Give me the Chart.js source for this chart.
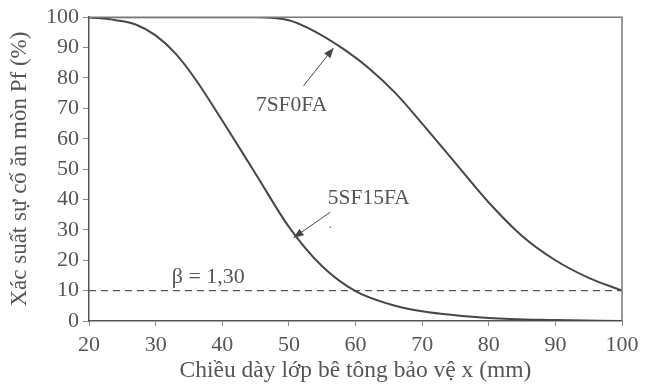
<!DOCTYPE html>
<html>
<head>
<meta charset="utf-8">
<script src="https://cdn.jsdelivr.net/npm/chart.js@4/dist/chart.umd.min.js"></script>
<style>
html,body{margin:0;padding:0;background:#fff;}
#wrap{width:646px;height:388px;}
</style>
</head>
<body>
<div id="wrap"><canvas id="c" width="646" height="388"></canvas></div>
<script>
const xTicks = [20, 30, 40, 50, 60, 70, 80, 90, 100];
const yTicks = [0, 10, 20, 30, 40, 50, 60, 70, 80, 90, 100];
const x5SF15FA = [20, 24, 27, 30, 33, 36, 40, 45, 50, 55, 60, 65, 70, 80, 90, 100];
const y5SF15FA = [100, 99, 97.6, 94, 88, 79.5, 66, 48.5, 31, 18, 9.8, 5.6, 3.2, 1, 0.3, 0];
const x7SF0FA = [20, 45, 50, 54, 58, 62, 66, 70, 75, 80, 85, 90, 95, 100];
const y7SF0FA = [100, 100, 99, 95.2, 89.8, 83.2, 75, 65, 52, 39, 28, 20, 14.2, 10];
const betaLevel = 10;
const betaLabel = "β = 1,30";
const seriesNames = ["5SF15FA", "7SF0FA"];

const ink = '#474747';
const txt = '#555';
const font = "'Liberation Serif', 'Times New Roman', serif";

const pts = (xs, ys) => xs.map((x, i) => ({x: x, y: ys[i]}));

const overlay = {
  id: 'overlay',
  afterDatasetsDraw(chart) {
    const {ctx, chartArea: a, scales: {x, y}} = chart;
    ctx.save();
    // frame top & right
    ctx.strokeStyle = '#777';
    ctx.lineWidth = 1.5;
    ctx.beginPath();
    ctx.moveTo(a.left, a.top); ctx.lineTo(a.right, a.top); ctx.lineTo(a.right, a.bottom);
    ctx.stroke();
    // labels
    ctx.fillStyle = txt;
    ctx.font = "21.5px " + font;
    ctx.textAlign = 'center';
    ctx.textBaseline = 'middle';
    ctx.fillText(seriesNames[1], x.getPixelForValue(50.4), y.getPixelForValue(71.1));
    ctx.fillText(seriesNames[0], x.getPixelForValue(62.0), y.getPixelForValue(40.3));
    ctx.font = "22px " + font;
    ctx.fillText(betaLabel, x.getPixelForValue(37.9), y.getPixelForValue(14.4));
    // arrows
    const arrow = (x0, y0, x1, y1) => {
      const X0 = x.getPixelForValue(x0), Y0 = y.getPixelForValue(y0);
      const X1 = x.getPixelForValue(x1), Y1 = y.getPixelForValue(y1);
      ctx.strokeStyle = ink; ctx.fillStyle = ink; ctx.lineWidth = 1;
      ctx.beginPath(); ctx.moveTo(X0, Y0); ctx.lineTo(X1, Y1); ctx.stroke();
      const ang = Math.atan2(Y1 - Y0, X1 - X0), L = 10, W = 4;
      ctx.beginPath();
      ctx.moveTo(X1, Y1);
      ctx.lineTo(X1 - L*Math.cos(ang) + W*Math.sin(ang), Y1 - L*Math.sin(ang) - W*Math.cos(ang));
      ctx.lineTo(X1 - L*Math.cos(ang) - W*Math.sin(ang), Y1 - L*Math.sin(ang) + W*Math.cos(ang));
      ctx.closePath(); ctx.fill();
    };
    arrow(52.2, 77.4, 56.7, 89.9);
    arrow(56.2, 35.8, 50.7, 27.4);
    // small speck near the lower label
    ctx.fillStyle = '#888';
    ctx.beginPath();
    ctx.arc(x.getPixelForValue(56.2), y.getPixelForValue(30.9), 0.9, 0, Math.PI * 2);
    ctx.fill();
    ctx.restore();
  }
};

new Chart(document.getElementById('c'), {
  type: 'line',
  data: {
    datasets: [
      {label: seriesNames[0], data: pts(x5SF15FA, y5SF15FA), borderColor: ink, borderWidth: 2, pointRadius: 0, cubicInterpolationMode: 'monotone', fill: false},
      {label: seriesNames[1], data: pts(x7SF0FA, y7SF0FA), borderColor: ink, borderWidth: 2, pointRadius: 0, cubicInterpolationMode: 'monotone', fill: false},
      {label: 'beta', data: [{x: 20, y: betaLevel}, {x: 100, y: betaLevel}], borderColor: '#555', borderWidth: 1.2, borderDash: [7, 5], pointRadius: 0, fill: false}
    ]
  },
  options: {
    responsive: false,
    animation: false,
    layout: {padding: {top: 16, right: 24, left: 6, bottom: 0}},
    plugins: {legend: {display: false}, tooltip: {enabled: false}},
    scales: {
      x: {
        type: 'linear', min: 20, max: 100,
        afterBuildTicks: s => { s.ticks = xTicks.map(v => ({value: v})); },
        afterFit: s => { s.height = 388 - 321; },
        grid: {drawOnChartArea: false, drawTicks: true, tickLength: 5, color: '#888'},
        border: {color: '#555', width: 1.5},
        ticks: {color: txt, font: {family: font, size: 22}, padding: 6, maxRotation: 0},
        title: {display: true, text: 'Chiều dày lớp bê tông bảo vệ x (mm)', color: txt, font: {family: font, size: 23.5}, padding: {top: 0, bottom: 3}}
      },
      y: {
        type: 'linear', min: 0, max: 100,
        afterBuildTicks: s => { s.ticks = yTicks.map(v => ({value: v})); },
        afterFit: s => { s.width = 89 - 6; },
        grid: {drawOnChartArea: false, drawTicks: true, tickLength: 6, color: '#888'},
        border: {color: '#555', width: 1.5},
        ticks: {color: txt, font: {family: font, size: 22}, padding: 4},
        title: {display: true, text: 'Xác suất sự cố ăn mòn Pf (%)', color: txt, font: {family: font, size: 23}, padding: {top: 0, bottom: 0}}
      }
    }
  },
  plugins: [overlay]
});
</script>
</body>
</html>
